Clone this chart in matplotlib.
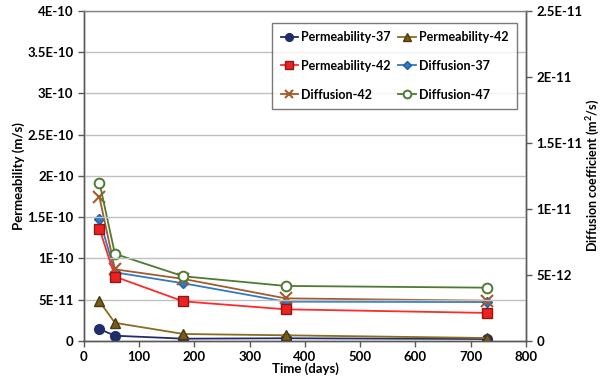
import matplotlib.pyplot as plt

# Time points (days)
days = [28, 56, 180, 365, 730]

# Permeability series (m/s), left axis
perm_37 = [1.45e-11, 6.4e-12, 2.8e-12, 3.3e-12, 2.4e-12]
perm_42a = [4.8e-11, 2.2e-11, 8.5e-12, 6.9e-12, 3.6e-12]
perm_42b = [1.36e-10, 7.8e-11, 4.8e-11, 3.84e-11, 3.4e-11]

# Diffusion coefficient series (m2/s), right axis
diff_37 = [9.27e-12, 5.2e-12, 4.37e-12, 2.98e-12, 2.95e-12]
diff_42 = [1.09e-11, 5.43e-12, 4.7e-12, 3.23e-12, 3.05e-12]
diff_47 = [1.2e-11, 6.6e-12, 4.9e-12, 4.17e-12, 4.04e-12]

left_ticks = [0, 5e-11, 1e-10, 1.5e-10, 2e-10, 2.5e-10, 3e-10, 3.5e-10, 4e-10]
left_labels = ['0', '5E-11', '1E-10', '1.5E-10', '2E-10', '2.5E-10',
               '3E-10', '3.5E-10', '4E-10']
right_ticks = [0, 5e-12, 1e-11, 1.5e-11, 2e-11, 2.5e-11]
right_labels = ['0', '5E-12', '1E-11', '1.5E-11', '2E-11', '2.5E-11']
x_ticks = list(range(0, 801, 100))

plt.rcParams['font.family'] = ['Lato', 'DejaVu Sans']
plt.rcParams['font.weight'] = 'bold'

fig = plt.figure(figsize=(6.05, 3.78), dpi=100)
ax = fig.add_axes([0.1388, 0.0979, 0.7306, 0.8731])
ax2 = ax.twinx()

ax.set_zorder(ax2.get_zorder() + 1)
ax.patch.set_visible(False)

# gridlines on left axis
ax.set_axisbelow(True)
ax.grid(axis='y', color='#bfbfbf', linewidth=1.0)

l1, = ax.plot(days, perm_37, color='#1f2d6b', marker='o', markersize=7,
              markeredgecolor='#1f2d6b', linewidth=1.3, label='Permeability-37')
l2, = ax.plot(days, perm_42a, color='#8c6d1f', marker='^', markersize=7,
              markerfacecolor='#7a5c16', markeredgecolor='#4a3a10',
              linewidth=1.3, label='Permeability-42')
l3, = ax.plot(days, perm_42b, color='#ff2a2a', marker='s', markersize=7.5,
              markerfacecolor='#ee2020', markeredgecolor='#8b1a1a',
              linewidth=1.3, label='Permeability-42')
l4, = ax2.plot(days, diff_37, color='#2e7bc4', marker='D', markersize=5,
               markeredgecolor='#1f5e9e', linewidth=1.3, label='Diffusion-37')
l5, = ax2.plot(days, diff_42, color='#a45a2a', marker='x', markersize=8,
               markeredgewidth=1.5, linewidth=1.3, label='Diffusion-42')
l6, = ax2.plot(days, diff_47, color='#4f7a33', marker='o', markersize=7,
               markerfacecolor='white', markeredgewidth=1.4,
               linewidth=1.3, label='Diffusion-47')

ax.set_xlim(0, 800)
ax.set_ylim(0, 4e-10)
ax2.set_ylim(0, 2.5e-11)
ax.set_xticks(x_ticks)
ax.set_xticklabels([str(t) for t in x_ticks], fontsize=9.5, fontweight='bold')
ax.set_yticks(left_ticks)
ax.set_yticklabels(left_labels, fontsize=9.5, fontweight='bold')
ax2.set_yticks(right_ticks)
ax2.set_yticklabels(right_labels, fontsize=9.5, fontweight='bold')

for a in (ax, ax2):
    for s in a.spines.values():
        s.set_color('#595959')
        s.set_linewidth(1.0)
ax.spines['top'].set_color('#808080')
ax2.spines['top'].set_visible(False)
ax.tick_params(axis='both', direction='out', length=4, color='#595959', width=1)
ax2.tick_params(axis='y', direction='out', length=4, color='#595959', width=1)

ax.set_xlabel('Time (days)', fontsize=9.5, fontweight='bold', labelpad=-1)
ax.set_ylabel('Permeability (m/s)', fontsize=9.5, fontweight='bold', labelpad=2)
ax2.set_ylabel('Diffusion coefficient (m$^\\mathregular{2}$/s)', fontsize=9,
               fontweight='bold', labelpad=2)

# legend filled column-wise, so order gives row-wise reading like the original
handles = [l1, l3, l5, l2, l4, l6]
leg = ax.legend(handles=handles, ncol=2, loc='upper right',
                bbox_to_anchor=(0.993, 0.983), fontsize=9,
                frameon=True, fancybox=False, edgecolor='#595959',
                handlelength=1.4, handletextpad=0.25, columnspacing=0.6,
                labelspacing=1.35, borderpad=0.65, markerscale=0.8)
leg.get_frame().set_linewidth(1.0)

fig.savefig('out.png', dpi=100)
